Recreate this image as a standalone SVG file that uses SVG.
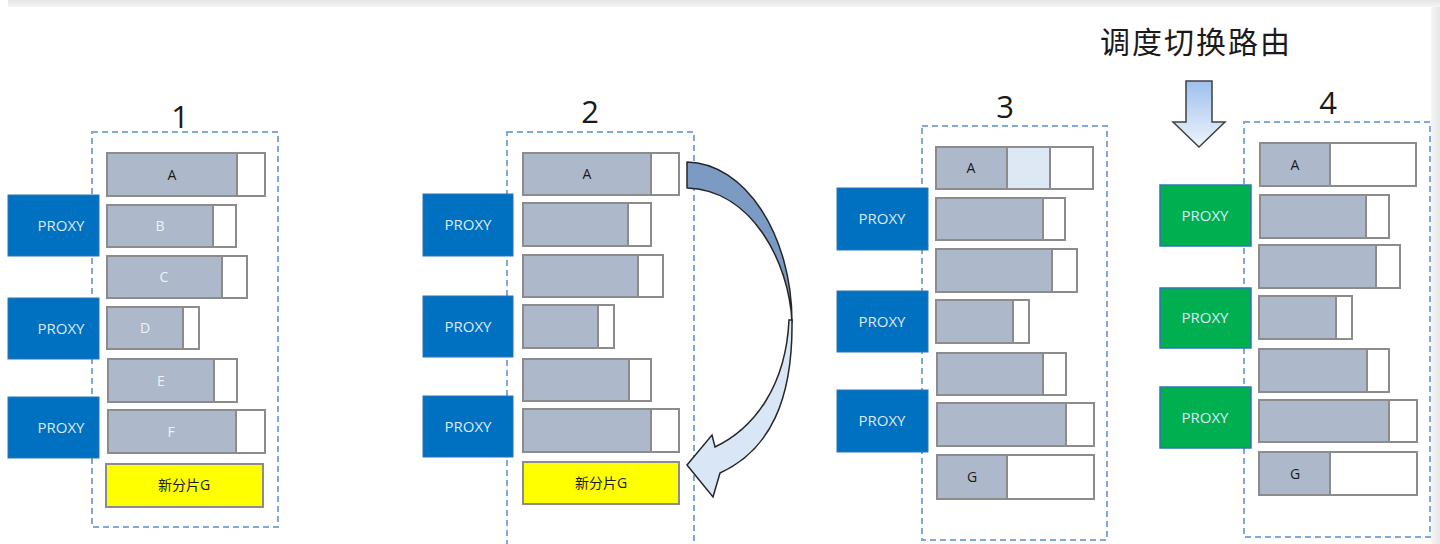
<svg xmlns="http://www.w3.org/2000/svg" width="1440" height="544" viewBox="0 0 1440 544">
<style>
.bar{fill:#ffffff;stroke:#8c8c8c;stroke-width:2}
.used{fill:#adb9ca;stroke:#8c8c8c;stroke-width:2}
.half{fill:#dde8f4;stroke:#8c8c8c;stroke-width:2}
.new{fill:#ffff00;stroke:#8c8c8c;stroke-width:2}
.proxy{fill:#0070c0;stroke:#2e75b6;stroke-width:1}
.proxyg{fill:#00b050;stroke:#2e75b6;stroke-width:1.5}
.ptxt{font-family:"Open Sans","Liberation Sans",sans-serif;font-size:15px;fill:#dce9f6;text-anchor:middle}
.ld{font-family:"Open Sans","Liberation Sans",sans-serif;font-size:14px;fill:#1a1a1a;text-anchor:middle}
.lw{font-family:"Open Sans","Liberation Sans",sans-serif;font-size:14px;fill:#eef2f7;text-anchor:middle}
.cj{font-family:"Open Sans","Noto Sans CJK SC",sans-serif;font-size:14px;fill:#1a1a1a;text-anchor:middle}
.dash{fill:none;stroke:#7ea9d8;stroke-width:2;stroke-dasharray:6 4}
.num{font-family:"Open Sans","Liberation Sans",sans-serif;font-size:31px;fill:#1a1a1a;text-anchor:middle}
.title{font-family:"Noto Sans CJK SC",sans-serif;font-size:30px;fill:#1a1a1a;text-anchor:middle;letter-spacing:2px}
</style>
<defs>
<linearGradient id="topg" x1="0" y1="0" x2="0" y2="1"><stop offset="0" stop-color="#e4e4e4"/><stop offset="1" stop-color="#f6f6f6"/></linearGradient>
<linearGradient id="rightg" x1="0" y1="0" x2="1" y2="0"><stop offset="0" stop-color="#f6f6f6"/><stop offset="1" stop-color="#e6e6e6"/></linearGradient>
<linearGradient id="downg" x1="0" y1="0" x2="0" y2="1"><stop offset="0" stop-color="#9ec0ee"/><stop offset="1" stop-color="#eef4fc"/></linearGradient>
</defs>
<rect x="0" y="0" width="1440" height="544" fill="#ffffff"/>
<rect x="8" y="0" width="1432" height="7" fill="url(#topg)"/>
<rect x="1431" y="7" width="9" height="537" fill="url(#rightg)"/>

<g id="frames">
<rect class="dash" x="92" y="132" width="186" height="395"/>
<rect class="dash" x="507" y="132" width="187" height="430"/>
<rect class="dash" x="922" y="126" width="185" height="414"/>
<rect class="dash" x="1244" y="122" width="186" height="415"/>
</g>

<g id="labels">
<text class="num" x="180" y="128">1</text>
<text class="num" x="590" y="123">2</text>
<text class="num" x="1005" y="118">3</text>
<text class="num" x="1328" y="114">4</text>
<text class="title" x="1196" y="53">调度切换路由</text>
</g>

<g id="panel1">
<g id="p1-A"><rect class="bar" x="107" y="153" width="158" height="43"/><rect class="used" x="107" y="153" width="130" height="43"/><text class="ld" x="172" y="180">A</text></g>
<g id="p1-B"><rect class="bar" x="107" y="205" width="129" height="42"/><rect class="used" x="107" y="205" width="106" height="42"/><text class="lw" x="160" y="231">B</text></g>
<g id="p1-C"><rect class="bar" x="107" y="256" width="140" height="42"/><rect class="used" x="107" y="256" width="115" height="42"/><text class="lw" x="164" y="282">C</text></g>
<g id="p1-D"><rect class="bar" x="107" y="307" width="92" height="42"/><rect class="used" x="107" y="307" width="76" height="42"/><text class="lw" x="145" y="333">D</text></g>
<g id="p1-E"><rect class="bar" x="108" y="359" width="129" height="43"/><rect class="used" x="108" y="359" width="106" height="43"/><text class="lw" x="161" y="386">E</text></g>
<g id="p1-F"><rect class="bar" x="108" y="410" width="157" height="43"/><rect class="used" x="108" y="410" width="128" height="43"/><text class="lw" x="171" y="437">F</text></g>
<g id="p1-G"><rect class="new" x="106" y="464" width="157" height="43"/><text class="cj" x="184" y="490">新分片G</text></g>
<g id="p1-proxy1"><rect class="proxy" x="8" y="195" width="91" height="61"/><text class="ptxt" x="61" y="231">PROXY</text></g>
<g id="p1-proxy2"><rect class="proxy" x="8" y="298" width="91" height="61"/><text class="ptxt" x="61" y="334">PROXY</text></g>
<g id="p1-proxy3"><rect class="proxy" x="8" y="397" width="91" height="61"/><text class="ptxt" x="61" y="433">PROXY</text></g>
</g>

<g id="panel2">
<g id="p2-A"><rect class="bar" x="523" y="153" width="156" height="42"/><rect class="used" x="523" y="153" width="128" height="42"/><text class="ld" x="587" y="179">A</text></g>
<g id="p2-2"><rect class="bar" x="523" y="203" width="128" height="43"/><rect class="used" x="523" y="203" width="105" height="43"/></g>
<g id="p2-3"><rect class="bar" x="523" y="255" width="140" height="42"/><rect class="used" x="523" y="255" width="115" height="42"/></g>
<g id="p2-4"><rect class="bar" x="523" y="305" width="91" height="43"/><rect class="used" x="523" y="305" width="75" height="43"/></g>
<g id="p2-5"><rect class="bar" x="523" y="359" width="128" height="42"/><rect class="used" x="523" y="359" width="106" height="42"/></g>
<g id="p2-6"><rect class="bar" x="523" y="409" width="156" height="43"/><rect class="used" x="523" y="409" width="128" height="43"/></g>
<g id="p2-G"><rect class="new" x="523" y="462" width="156" height="42"/><text class="cj" x="601" y="488">新分片G</text></g>
<g id="p2-proxy1"><rect class="proxy" x="423" y="194" width="90" height="62"/><text class="ptxt" x="468" y="230">PROXY</text></g>
<g id="p2-proxy2"><rect class="proxy" x="423" y="296" width="90" height="61"/><text class="ptxt" x="468" y="332">PROXY</text></g>
<g id="p2-proxy3"><rect class="proxy" x="423" y="396" width="90" height="61"/><text class="ptxt" x="468" y="432">PROXY</text></g>
</g>

<g id="panel3">
<g id="p3-A"><rect class="bar" x="936" y="147" width="157" height="42"/><rect class="half" x="1007" y="147" width="43" height="42"/><rect class="used" x="936" y="147" width="71" height="42"/><text class="ld" x="971" y="173">A</text></g>
<g id="p3-2"><rect class="bar" x="936" y="198" width="129" height="42"/><rect class="used" x="936" y="198" width="107" height="42"/></g>
<g id="p3-3"><rect class="bar" x="936" y="249" width="141" height="43"/><rect class="used" x="936" y="249" width="116" height="43"/></g>
<g id="p3-4"><rect class="bar" x="936" y="300" width="93" height="43"/><rect class="used" x="936" y="300" width="77" height="43"/></g>
<g id="p3-5"><rect class="bar" x="937" y="353" width="129" height="42"/><rect class="used" x="937" y="353" width="106" height="42"/></g>
<g id="p3-6"><rect class="bar" x="937" y="403" width="157" height="43"/><rect class="used" x="937" y="403" width="129" height="43"/></g>
<g id="p3-G"><rect class="bar" x="937" y="455" width="157" height="44"/><rect class="used" x="937" y="455" width="70" height="44"/><text class="ld" x="972" y="482">G</text></g>
<g id="p3-proxy1"><rect class="proxy" x="837" y="188" width="91" height="62"/><text class="ptxt" x="882" y="224">PROXY</text></g>
<g id="p3-proxy2"><rect class="proxy" x="837" y="291" width="91" height="61"/><text class="ptxt" x="882" y="327">PROXY</text></g>
<g id="p3-proxy3"><rect class="proxy" x="837" y="390" width="91" height="62"/><text class="ptxt" x="882" y="426">PROXY</text></g>
</g>

<g id="panel4">
<g id="p4-A"><rect class="bar" x="1260" y="143" width="156" height="43"/><rect class="used" x="1260" y="143" width="70" height="43"/><text class="ld" x="1295" y="170">A</text></g>
<g id="p4-2"><rect class="bar" x="1260" y="195" width="129" height="43"/><rect class="used" x="1260" y="195" width="106" height="43"/></g>
<g id="p4-3"><rect class="bar" x="1259" y="245" width="141" height="43"/><rect class="used" x="1259" y="245" width="117" height="43"/></g>
<g id="p4-4"><rect class="bar" x="1259" y="296" width="93" height="43"/><rect class="used" x="1259" y="296" width="77" height="43"/></g>
<g id="p4-5"><rect class="bar" x="1259" y="349" width="130" height="43"/><rect class="used" x="1259" y="349" width="108" height="43"/></g>
<g id="p4-6"><rect class="bar" x="1259" y="400" width="158" height="42"/><rect class="used" x="1259" y="400" width="130" height="42"/></g>
<g id="p4-G"><rect class="bar" x="1259" y="452" width="158" height="43"/><rect class="used" x="1259" y="452" width="71" height="43"/><text class="ld" x="1295" y="479">G</text></g>
<g id="p4-proxy1"><rect class="proxyg" x="1160" y="185" width="91" height="61"/><text class="ptxt" x="1205" y="221">PROXY</text></g>
<g id="p4-proxy2"><rect class="proxyg" x="1160" y="288" width="91" height="60"/><text class="ptxt" x="1205" y="323">PROXY</text></g>
<g id="p4-proxy3"><rect class="proxyg" x="1160" y="387" width="91" height="61"/><text class="ptxt" x="1205" y="423">PROXY</text></g>
</g>

<g id="connectors">
<path d="M687,162 C745,163 792,235 792,322 C789,262 752,190 687,188 Z" fill="#7b9ac4" stroke="#262626" stroke-width="1.5" stroke-linejoin="round"/>
<path d="M792,320 C793,400 770,450 720,473 L713,497 L687,465 L712,435 L715,447 C755,428 786,385 789,320 Z" fill="#d9e6f6" stroke="#262626" stroke-width="1.5" stroke-linejoin="miter"/>
<path d="M1186,81 L1212,81 L1212,122 L1225,122 L1199,147 L1173,122 L1186,122 Z" fill="url(#downg)" stroke="#404040" stroke-width="1.5"/>
</g>
</svg>
